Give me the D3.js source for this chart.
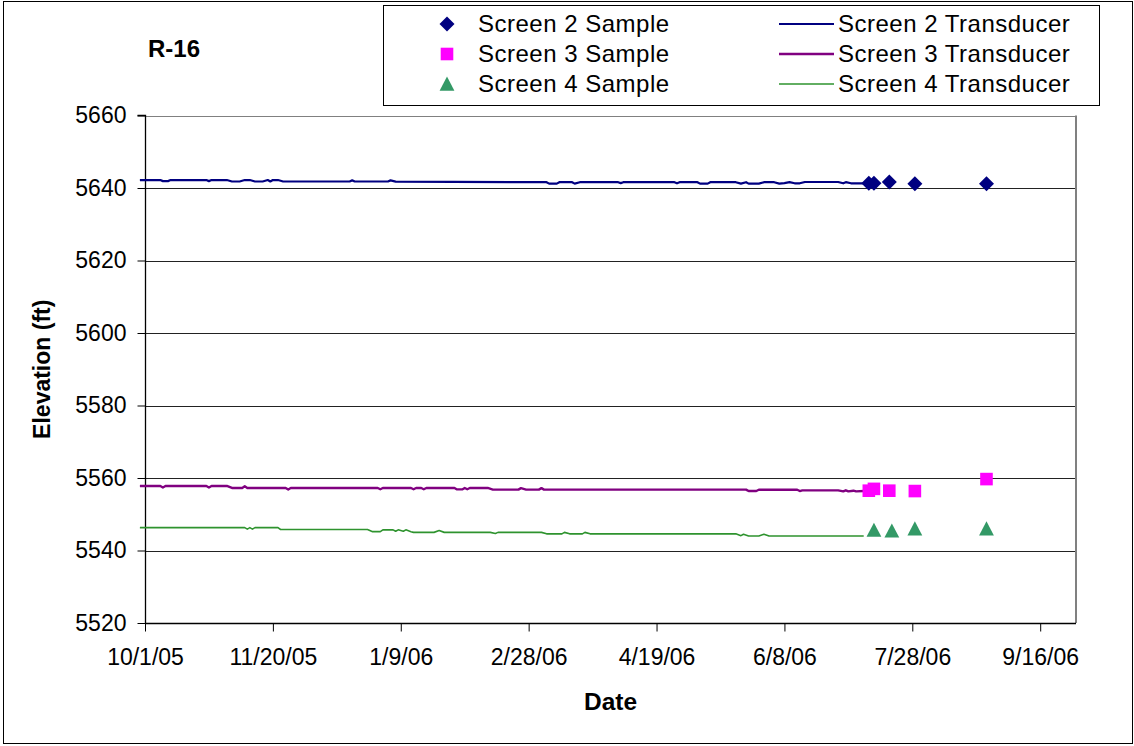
<!DOCTYPE html>
<html><head><meta charset="utf-8">
<script src="https://cdn.jsdelivr.net/npm/d3@7"></script>
<style>
body{margin:0;background:#fff}
text{font-family:"Liberation Sans",Arial,sans-serif;fill:#000}
</style>
</head><body>
<svg id="chart" width="1134" height="746"></svg>
<script>
// ---------------- data ----------------
const chartTitle = "R-16";
const xTickLabels = ["10/1/05","11/20/05","1/9/06","2/28/06","4/19/06","6/8/06","7/28/06","9/16/06"];
const yTicks = [5520,5540,5560,5580,5600,5620,5640,5660];
const xDomain = ["2005-10-01","2006-09-30"];
const yDomain = [5520,5660];

const screen2SampleDates  = ["2006-07-11","2006-07-13","2006-07-19","2006-07-29","2006-08-26"];
const screen2SampleValues = [5641.3,5641.3,5641.65,5641.2,5641.2];
const screen3SampleDates  = ["2006-07-11","2006-07-13","2006-07-19","2006-07-29","2006-08-26"];
const screen3SampleValues = [5556.5,5557.0,5556.5,5556.4,5559.7];
const screen4SampleDates  = ["2006-07-13","2006-07-20","2006-07-29","2006-08-26"];
const screen4SampleValues = [5545.6,5545.4,5546.0,5546.0];

const screen2Transducer = [
 ["2005-09-29",5642.2],["2005-10-07",5642.2],["2005-10-08",5641.9],["2005-10-10",5641.9],["2005-10-11",5642.2],
 ["2005-10-25",5642.2],["2005-10-26",5641.9],["2005-10-27",5642.2],["2005-11-02",5642.2],["2005-11-04",5641.8],
 ["2005-11-07",5641.8],["2005-11-09",5642.2],["2005-11-11",5642.2],["2005-11-13",5641.8],["2005-11-16",5641.8],
 ["2005-11-18",5642.2],["2005-11-19",5641.8],["2005-11-20",5642.2],["2005-11-22",5642.2],["2005-11-24",5641.8],
 ["2005-12-20",5641.8],["2005-12-21",5642.1],["2005-12-22",5641.8],["2006-01-04",5641.8],["2006-01-05",5642.1],
 ["2006-01-07",5641.75],["2006-03-07",5641.6],["2006-03-08",5641.2],["2006-03-11",5641.2],["2006-03-12",5641.6],
 ["2006-03-17",5641.6],["2006-03-18",5641.2],["2006-03-20",5641.6],["2006-04-04",5641.6],["2006-04-05",5641.35],
 ["2006-04-06",5641.6],["2006-04-26",5641.6],["2006-04-27",5641.3],["2006-04-28",5641.6],["2006-05-05",5641.6],
 ["2006-05-06",5641.2],["2006-05-09",5641.2],["2006-05-10",5641.6],["2006-05-20",5641.6],["2006-05-22",5641.2],
 ["2006-05-24",5641.6],["2006-05-25",5641.2],["2006-05-29",5641.2],["2006-05-31",5641.6],["2006-06-04",5641.6],
 ["2006-06-06",5641.2],["2006-06-08",5641.35],["2006-06-10",5641.6],["2006-06-12",5641.3],["2006-06-14",5641.3],
 ["2006-06-16",5641.65],["2006-06-29",5641.65],["2006-07-01",5641.3],["2006-07-02",5641.6],["2006-07-04",5641.3],
 ["2006-07-09",5641.3]
];
const screen3Transducer = [
 ["2005-09-29",5557.8],["2005-10-07",5557.8],["2005-10-08",5557.4],["2005-10-09",5557.8],["2005-10-25",5557.8],
 ["2005-10-26",5557.4],["2005-10-27",5557.8],["2005-11-02",5557.8],["2005-11-04",5557.25],["2005-11-08",5557.25],
 ["2005-11-09",5557.7],["2005-11-10",5557.25],["2005-11-25",5557.25],["2005-11-26",5556.85],["2005-11-27",5557.25],
 ["2005-12-31",5557.25],["2006-01-01",5556.9],["2006-01-02",5557.25],["2006-01-13",5557.25],["2006-01-14",5556.9],
 ["2006-01-15",5557.25],["2006-01-17",5557.25],["2006-01-18",5556.9],["2006-01-19",5557.25],["2006-01-30",5557.25],
 ["2006-01-31",5556.85],["2006-02-02",5556.85],["2006-02-03",5557.25],["2006-02-04",5556.9],["2006-02-05",5557.25],
 ["2006-02-12",5557.25],["2006-02-14",5556.8],["2006-02-24",5556.8],["2006-02-25",5557.2],["2006-02-27",5556.8],
 ["2006-03-04",5556.8],["2006-03-05",5557.2],["2006-03-06",5556.8],["2006-05-24",5556.8],["2006-05-25",5556.4],
 ["2006-05-28",5556.4],["2006-05-29",5556.75],["2006-06-13",5556.75],["2006-06-14",5556.4],["2006-06-15",5556.6],
 ["2006-06-29",5556.6],["2006-07-01",5556.3],["2006-07-02",5556.6],["2006-07-03",5556.3],["2006-07-05",5556.5],
 ["2006-07-06",5556.3],["2006-07-09",5556.4]
];
const screen4Transducer = [
 ["2005-09-29",5546.3],["2005-11-09",5546.3],["2005-11-10",5545.9],["2005-11-11",5546.3],["2005-11-12",5545.9],
 ["2005-11-13",5546.3],["2005-11-22",5546.3],["2005-11-23",5545.8],["2005-12-27",5545.8],["2005-12-29",5545.2],
 ["2006-01-01",5545.2],["2006-01-02",5545.7],["2006-01-06",5545.7],["2006-01-07",5545.3],["2006-01-08",5545.7],
 ["2006-01-10",5545.3],["2006-01-11",5545.7],["2006-01-13",5545.2],["2006-01-14",5545.0],["2006-01-22",5545.0],
 ["2006-01-24",5545.5],["2006-01-26",5545.0],["2006-02-13",5545.0],["2006-02-15",5544.7],["2006-02-16",5545.0],
 ["2006-03-05",5545.0],["2006-03-07",5544.6],["2006-03-13",5544.6],["2006-03-14",5545.0],["2006-03-16",5544.6],
 ["2006-03-21",5544.6],["2006-03-22",5545.0],["2006-03-24",5544.6],["2006-05-20",5544.6],["2006-05-22",5544.1],
 ["2006-05-23",5544.5],["2006-05-25",5544.0],["2006-05-29",5544.0],["2006-05-31",5544.5],["2006-06-02",5544.0],
 ["2006-07-09",5544.0]
];

const legendLabels = ["Screen 2 Sample","Screen 3 Sample","Screen 4 Sample",
                      "Screen 2 Transducer","Screen 3 Transducer","Screen 4 Transducer"];

// ---------------- drawing ----------------
const svg = d3.select("#chart");
const pIso = d3.timeParse("%Y-%m-%d");
const pTick = d3.timeParse("%m/%d/%y");

const plot = {left:145, right:1076, top:115.5, bottom:623};
const x = d3.scaleTime().domain(xDomain.map(pIso)).range([plot.left, plot.right]);
const y = d3.scaleLinear().domain(yDomain).range([plot.bottom, plot.top]);

// outer border
svg.append("rect").attr("x",3.5).attr("y",1.5).attr("width",1129).attr("height",742)
  .attr("fill","#fff").attr("stroke","#000").attr("stroke-width",1);

// gridlines
svg.append("g").selectAll("line").data(yTicks.filter(v=>v>yDomain[0] && v<yDomain[1])).join("line")
  .attr("x1",plot.left).attr("x2",plot.right)
  .attr("y1",d=>Math.round(y(d))+0.5).attr("y2",d=>Math.round(y(d))+0.5)
  .attr("stroke","#222").attr("stroke-width",1);
// top + right border of plot area
svg.append("line").attr("x1",plot.left).attr("x2",plot.right)
  .attr("y1",Math.round(plot.top)+0.5).attr("y2",Math.round(plot.top)+0.5)
  .attr("stroke","#808080").attr("stroke-width",1);
svg.append("line").attr("x1",plot.right).attr("x2",plot.right)
  .attr("y1",plot.top).attr("y2",plot.bottom)
  .attr("stroke","#808080").attr("stroke-width",2);

// axes
const fs = 23;
const yAxis = svg.append("g").attr("transform",`translate(${plot.left+0.5},0)`)
  .call(d3.axisLeft(y).tickValues(yTicks).tickSize(8).tickPadding(11).tickFormat(d3.format("d")));
const xTickDates = xTickLabels.map(pTick);
const xAxis = svg.append("g").attr("transform",`translate(0,${plot.bottom+0.5})`)
  .call(d3.axisBottom(x).tickValues(xTickDates).tickSize(8).tickPadding(17)
        .tickFormat((d,i)=>xTickLabels[i]));
[yAxis,xAxis].forEach(g=>{
  g.select(".domain").attr("stroke","#000").attr("stroke-width",1.3);
  g.selectAll(".tick line").attr("stroke","#000");
  g.selectAll(".tick text").attr("font-size",fs).attr("font-family","Liberation Sans, Arial, sans-serif").attr("fill","#000");
});
yAxis.select(".domain").attr("d",`M-8,${plot.top}H0V${plot.bottom}`);
xAxis.select(".domain").attr("d",`M${plot.left},0H${plot.right}`);

// series lines
const line = d3.line().x(d=>x(pIso(d[0]))).y(d=>y(d[1]));
const lineSeries = [
  {data:screen2Transducer, color:"#000080", w:2.2},
  {data:screen3Transducer, color:"#800080", w:2.4},
  {data:screen4Transducer, color:"#2e932e", w:1.6}
];
svg.append("g").selectAll("path").data(lineSeries).join("path")
  .attr("d",d=>line(d.data)).attr("fill","none")
  .attr("stroke",d=>d.color).attr("stroke-width",d=>d.w).attr("stroke-linejoin","round");

// marker shapes
function diamond(s){return `M0,${-s}L${s},0L0,${s}L${-s},0Z`;}
function square(s){return `M${-s},${-s}H${s}V${s}H${-s}Z`;}
function triangle(s){return `M0,${-s}L${s},${s*0.9}L${-s},${s*0.9}Z`;}

const sampleSeries = [
  {dates:screen2SampleDates, vals:screen2SampleValues, path:diamond(7.5), color:"#000080"},
  {dates:screen3SampleDates, vals:screen3SampleValues, path:square(6.3), color:"#ff00ff"},
  {dates:screen4SampleDates, vals:screen4SampleValues, path:triangle(7.4), color:"#339966"}
];
sampleSeries.forEach(s=>{
  svg.append("g").selectAll("path").data(s.dates.map((d,i)=>[d,s.vals[i]])).join("path")
    .attr("d",s.path).attr("fill",s.color)
    .attr("transform",d=>`translate(${x(pIso(d[0]))},${y(d[1])})`);
});

// title
svg.append("text").attr("x",148).attr("y",57).attr("font-size",24).attr("font-weight","bold").text(chartTitle);

// axis titles
svg.append("text").attr("transform",`translate(50,${(plot.top+plot.bottom)/2}) rotate(-90)`)
  .attr("text-anchor","middle").attr("font-size",fs).attr("font-weight","bold").text("Elevation (ft)");
svg.append("text").attr("x",(plot.left+plot.right)/2).attr("y",710)
  .attr("text-anchor","middle").attr("font-size",24.5).attr("font-weight","bold").text("Date");

// legend
const lg = svg.append("g");
lg.append("rect").attr("x",383.5).attr("y",5.5).attr("width",716).attr("height",100)
  .attr("fill","#fff").attr("stroke","#000").attr("stroke-width",1);
const rows = [24,54,84];
const lfs = 24;
sampleSeries.forEach((s,i)=>{
  lg.append("path").attr("d",s.path).attr("fill",s.color).attr("transform",`translate(447,${rows[i]})`);
  lg.append("text").attr("x",478).attr("y",rows[i]+8).attr("font-size",lfs).attr("letter-spacing",0.5).text(legendLabels[i]);
});
lineSeries.forEach((s,i)=>{
  lg.append("line").attr("x1",779).attr("x2",834).attr("y1",rows[i]).attr("y2",rows[i])
    .attr("stroke",s.color).attr("stroke-width",s.w);
  lg.append("text").attr("x",838).attr("y",rows[i]+8).attr("font-size",lfs).attr("letter-spacing",0.5).text(legendLabels[i+3]);
});
</script>
</body></html>
